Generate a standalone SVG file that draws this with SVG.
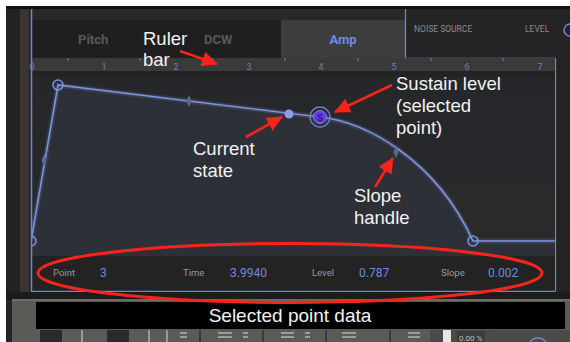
<svg xmlns="http://www.w3.org/2000/svg" width="570" height="342" viewBox="0 0 570 342">
<defs>
<style>
.note{font-family:"Liberation Sans",Arial,sans-serif;font-size:18.5px;fill:#f2f2f2}
.tab{font-family:Roboto,"Liberation Sans",sans-serif;font-size:13px;font-weight:bold;fill:#595959}
.small{font-family:Roboto,"Liberation Sans",sans-serif;font-size:8.5px;fill:#8c8c8c}
.lab{font-family:Roboto,"Liberation Sans",sans-serif;font-size:9.5px;fill:#9a9a9a}
.val{font-family:Roboto,"Liberation Sans",sans-serif;font-size:12px;fill:#6d8be0}
.dig{font-family:Roboto,"Liberation Sans",sans-serif;font-size:9px;fill:#6b80c4;text-anchor:middle}
.env{fill:none;stroke:#7d93dc;stroke-width:1.6}
.glow{fill:none;stroke:#7d93dc;stroke-width:5;stroke-opacity:0.18}
.pt{fill:none;stroke:#7d93dc;stroke-width:1.6}
.hdl{fill:#5c6890}
.arrow{stroke:#f7241a;stroke-width:2.6;fill:none}
</style>
<marker id="ah" markerUnits="userSpaceOnUse" markerWidth="17" markerHeight="15" refX="15" refY="7.5" orient="auto">
<path d="M0,0 L16,7.5 L0,15 Z" fill="#f7241a"/>
</marker>
<linearGradient id="envbg" x1="0" y1="0" x2="0" y2="1">
<stop offset="0" stop-color="#26272a"/>
<stop offset="1" stop-color="#28292b"/>
</linearGradient>
<clipPath id="envclip"><rect x="31" y="71" width="524" height="184"/></clipPath>
</defs>

<!-- background frame -->
<rect x="0" y="0" width="570" height="342" fill="#ffffff"/>
<rect x="6" y="6" width="564" height="336" fill="#242424"/>
<rect x="6" y="6" width="564" height="3" fill="#111"/>
<rect x="6" y="9" width="14" height="290" fill="#222"/>
<rect x="20" y="9" width="9" height="290" fill="#3a3530"/>

<!-- tabs -->
<g id="tabs">
<rect x="31" y="9" width="374" height="11" fill="#282828"/>
<rect x="31" y="20" width="250" height="38" fill="#1f1f1f"/>
<rect x="281" y="20" width="124" height="38" fill="#3d3d3d"/>
<text class="tab" x="78" y="44">Pitch</text>
<text class="tab" x="204" y="44">DCW</text>
<text class="tab" x="343" y="44" text-anchor="middle" style="fill:#6d8be0">Amp</text>
</g>

<g id="noise-panel">
<rect x="405" y="9" width="165" height="49" fill="#242424"/>
<path d="M405.5,9 V58.5 H555.5 V291" fill="none" stroke="#6d85d8" stroke-width="1.3"/>
<text class="small" x="414" y="32">NOISE SOURCE</text>
<text class="small" x="525" y="32">LEVEL</text>
<path d="M570,24 A6,6 0 0 0 570,36" fill="none" stroke="#6d85d8" stroke-width="1.5"/>
</g>

<!-- ruler -->
<g id="ruler">
<rect x="31" y="58" width="524" height="13" fill="#3a3a3a"/>
<g stroke="#6b80c4" stroke-width="1">
<path d="M68,58 V61 M140,58 V61 M213,58 V61 M285,58 V61 M358,58 V61 M431,58 V61 M503,58 V61"/>
</g>
<text class="dig" x="32" y="70">0</text>
<text class="dig" x="104" y="70">1</text>
<text class="dig" x="176" y="70">2</text>
<text class="dig" x="249" y="70">3</text>
<text class="dig" x="321" y="70">4</text>
<text class="dig" x="394" y="70">5</text>
<text class="dig" x="467" y="70">6</text>
<text class="dig" x="540" y="70">7</text>
</g>

<!-- envelope area -->
<g id="envelope" clip-path="url(#envclip)">
<rect x="31" y="71" width="524" height="184" fill="url(#envbg)"/>
<rect x="31" y="71" width="524" height="6" fill="#232323"/>
<rect x="31" y="183" width="524" height="72" fill="#2a2a2b"/>
<path d="M31,241 L58,85 L320,117 C365,122 435,158 473,241 L555,241 L555,255 L31,255 Z" fill="#2e3038"/>
<path class="glow" d="M31,241 L58,85 L320,117 C365,122 435,158 473,241 L555,241"/>
<path class="env" d="M31,241 L58,85 L320,117 C365,122 435,158 473,241 L555,241"/>
<circle class="pt" cx="58" cy="85" r="5" fill="#2e3038"/>
<circle class="pt" cx="31" cy="241" r="5" fill="#2e3038"/>
<circle class="pt" cx="473" cy="241" r="5" fill="#2e3038"/>
<path class="hdl" d="M44,154 L46.5,160 L44,166 L41.5,160 Z"/>
<path class="hdl" d="M189,95 L191.5,101 L189,107 L186.5,101 Z"/>
<path class="hdl" d="M396,146 L398.5,152 L396,158 L393.5,152 Z"/>
<circle cx="289" cy="114" r="4.5" fill="#8a9ee6"/>
<circle cx="320" cy="117" r="10" fill="none" stroke="#6b7fc8" stroke-width="1.4"/>
<circle cx="320" cy="117" r="6.5" fill="#5b3fe0" stroke="#8a7af0" stroke-width="1"/>
<text x="320" y="120.5" text-anchor="middle" style="font-family:Roboto,'Liberation Sans',sans-serif;font-size:9px;font-weight:bold;fill:#2a1f70">S</text>
</g>

<!-- data row -->
<g id="data-row">
<rect x="31" y="255" width="524" height="36" fill="#232323"/>
<rect x="31" y="255" width="524" height="1" fill="#303030"/>
<text class="lab" x="53" y="276">Point</text>
<text class="val" x="100" y="277">3</text>
<text class="lab" x="183" y="276">Time</text>
<text class="val" x="230" y="277">3.9940</text>
<text class="lab" x="312" y="276">Level</text>
<text class="val" x="359" y="277">0.787</text>
<text class="lab" x="441" y="276">Slope</text>
<text class="val" x="488" y="277">0.002</text>
</g>
<path d="M31.5,9 V291.5 H555.5" fill="none" stroke="#6d85d8" stroke-width="1.5"/>

<!-- lower hardware panel -->
<g id="hardware">
<rect x="6" y="292" width="564" height="8" fill="#1c1c1c"/>
<rect x="12" y="299" width="558" height="43" fill="#5a5a57"/>
<rect x="12" y="299" width="558" height="2" fill="#6a6a66"/>
<rect x="40" y="330" width="22" height="12" fill="#2a2a2a"/>
<rect x="107" y="330" width="22" height="12" fill="#2a2a2a"/>
<path d="M82,330 V342 M149,330 V342 M167,330 V342" stroke="#d8d8d8" stroke-width="1"/>
<g stroke="#dcdcdc" stroke-width="1">
<path d="M180,333 H187 M180,337 H187 M218,333 H232 M218,337 H232 M243,333 H248 M243,337 H248 M281,333 H294 M281,337 H294 M305,333 H310 M305,337 H310 M342,333 H356 M342,337 H356 M408,333 H420 M408,337 H420"/>
</g>
<path d="M200,330 V342 M263,330 V342 M326,330 V342 M390,330 V342" stroke="#3a3a3a" stroke-width="2"/>
<rect x="430" y="330" width="140" height="12" fill="#4a4a47"/>
<rect x="443" y="330" width="8" height="12" fill="#e6e6e6"/>
<rect x="457" y="331" width="28" height="11" fill="#3c3c3a"/>
<text x="459" y="341" style="font-family:Roboto,'Liberation Sans',sans-serif;font-size:8px;fill:#bdbdbd">0.00 %</text>
<path d="M530,342 A10,10 0 0 1 546,342" fill="none" stroke="#6d85d8" stroke-width="1.5"/>
</g>

<g id="label-box">
<rect x="36" y="302" width="529" height="27" fill="#000"/>
<text class="note" x="290" y="322" text-anchor="middle" style="font-size:19px">Selected point data</text>
</g>

<!-- annotation nodes -->
<g id="ruler-bar-note">
<text class="note" x="143" y="45">Ruler</text>
<text class="note" x="143" y="66">bar</text>
</g>
<g id="sustain-note">
<text class="note" x="396" y="90">Sustain level</text>
<text class="note" x="396" y="112">(selected</text>
<text class="note" x="396" y="134">point)</text>
</g>
<g id="current-note">
<text class="note" x="193" y="155">Current</text>
<text class="note" x="193" y="177">state</text>
</g>
<g id="slope-note">
<text class="note" x="354" y="202">Slope</text>
<text class="note" x="354" y="224">handle</text>
</g>

<!-- connectors -->
<g id="connectors">
<line class="arrow" x1="180" y1="51" x2="217" y2="64" marker-end="url(#ah)"/>
<line class="arrow" x1="392" y1="85" x2="335" y2="112" marker-end="url(#ah)"/>
<line class="arrow" x1="246" y1="137" x2="282" y2="117" marker-end="url(#ah)"/>
<line class="arrow" x1="375" y1="187" x2="393" y2="158" marker-end="url(#ah)"/>
<ellipse cx="290" cy="273" rx="252" ry="29.5" fill="none" stroke="#f7241a" stroke-width="3"/>
</g>
</svg>
